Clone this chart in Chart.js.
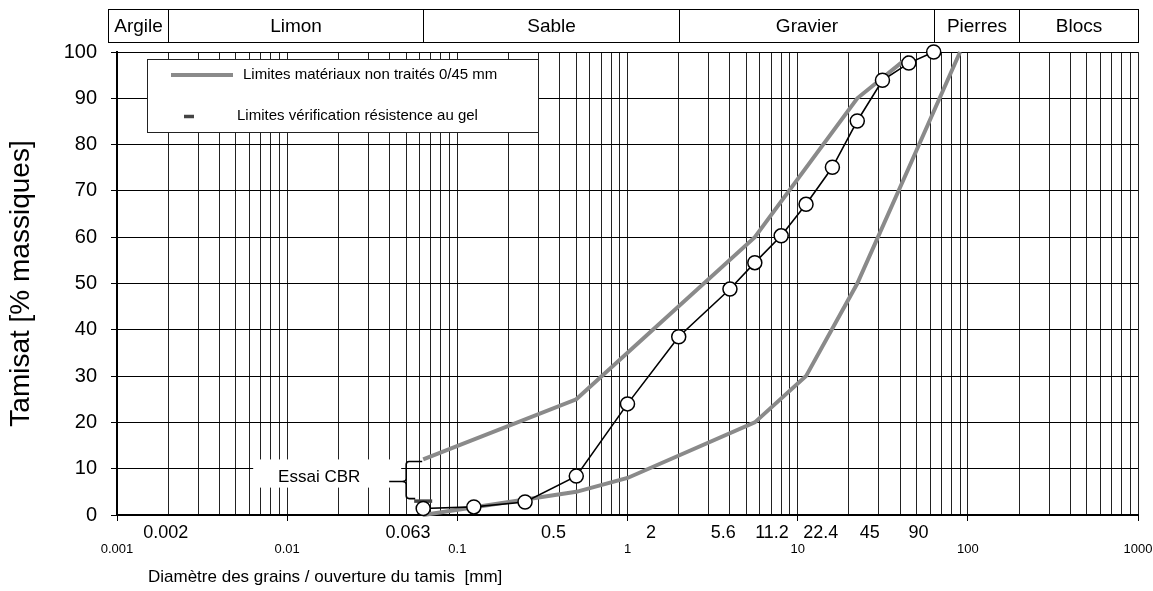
<!DOCTYPE html>
<html><head><meta charset="utf-8">
<script src="https://cdn.jsdelivr.net/npm/chart.js@4"></script>
<style>html,body{margin:0;padding:0;background:#fff}#wrap{width:1153px;height:591px;position:relative}</style>
</head><body><div id="wrap"><canvas id="c" width="1153" height="591"></canvas></div>
<script>
// ---- data ----
const sieveSizes = [0.063, 0.125, 0.25, 0.5, 1, 2, 4, 5.6, 8, 11.2, 16, 22.4, 31.5, 45, 63];
const passing    = [1.4, 1.75, 2.8, 8.4, 24.0, 38.5, 48.8, 54.5, 60.3, 67.1, 75.1, 85.1, 93.9, 97.6, 100];
const upperLimitSizes  = [0.063, 0.5, 5.6, 22.4, 45];
const upperLimitValues = [12, 25, 60, 90, 99];
const lowerLimitSizes  = [0.063, 0.5, 1, 5.6, 11.2, 22.4, 45, 90];
const lowerLimitValues = [0, 5, 8, 20, 30, 50, 75, 100];
const frostSizes  = [0.063];
const frostValues = [3];
const decadeTicks = [0.001, 0.01, 0.1, 1, 10, 100, 1000];
const sizeLabels  = [0.002, 0.063, 0.5, 2, 5.6, 11.2, 22.4, 45, 90];
const bandNames  = ['Argile', 'Limon', 'Sable', 'Gravier', 'Pierres', 'Blocs'];
const bandLimits = [0.00088, 0.002, 0.063, 2, 63, 200, 1000];
const legendLabels = ['Limites matériaux non traités 0/45 mm', 'Limites vérification résistence au gel'];
const cbrLabel = 'Essai CBR';
const xTitle = 'Diamètre des grains / ouverture du tamis  [mm]';
const yTitle = 'Tamisat [% massiques]';

// ---- helpers ----
const FONT = '"Liberation Sans", Arial, Helvetica, sans-serif';
const toXY = (xs, ys) => xs.map((x, i) => ({x: x, y: ys[i]}));
const GRAY = '#8a8a8a';
const FROST = '#444';

function logGridTicks() {
  const t = [];
  for (let i = 0; i < decadeTicks.length; i++) {
    const d = decadeTicks[i];
    t.push({value: d});
    if (i < decadeTicks.length - 1) {
      for (let m = 2; m <= 9; m++) t.push({value: m * d});
    }
  }
  return t;
}

function braceGeom(chart) {
  const x = chart.scales.x, y = chart.scales.y;
  const xv = x.getPixelForValue(frostSizes[0]);
  const yTop = y.getPixelForValue(upperLimitValues[0]) + 2;
  const yBot = y.getPixelForValue(frostValues[0]) - 2.5;
  return {xv, yTop, yBot, tip: xv - 34, xb: xv - 17, yMid: (yTop + yBot) / 2 + 1.5};
}

const decor = {
  id: 'decor',
  beforeDatasetsDraw(chart) {
    const ctx = chart.ctx;
    const g = braceGeom(chart);
    ctx.save();
    ctx.fillStyle = '#fff';
    ctx.fillRect(g.tip - 136, g.yTop - 2, (g.xb - 5) - (g.tip - 136), (g.yBot - 11) - (g.yTop - 2));
    ctx.fillStyle = '#000';
    ctx.font = '17px ' + FONT;
    ctx.textAlign = 'center'; ctx.textBaseline = 'middle';
    ctx.fillText(cbrLabel, g.tip - 70, g.yMid - 4);
    ctx.restore();
  },
  afterDatasetsDraw(chart) {
    const ctx = chart.ctx;
    const g = braceGeom(chart);
    ctx.save();
    ctx.strokeStyle = '#000'; ctx.lineWidth = 1.6;
    ctx.beginPath();
    ctx.moveTo(g.xv - 1, g.yTop);
    ctx.lineTo(g.xb + 3, g.yTop);
    ctx.quadraticCurveTo(g.xb, g.yTop, g.xb, g.yTop + 3);
    ctx.lineTo(g.xb, g.yMid - 3);
    ctx.quadraticCurveTo(g.xb, g.yMid, g.xb - 4, g.yMid);
    ctx.lineTo(g.tip, g.yMid);
    ctx.moveTo(g.xb - 4, g.yMid);
    ctx.quadraticCurveTo(g.xb, g.yMid, g.xb, g.yMid + 3);
    ctx.lineTo(g.xb, g.yBot - 3);
    ctx.quadraticCurveTo(g.xb, g.yBot, g.xb + 3, g.yBot);
    ctx.lineTo(g.xv - 8, g.yBot);
    ctx.stroke();
    ctx.restore();
  },
  afterDraw(chart) {
    const ctx = chart.ctx, x = chart.scales.x, x2 = chart.scales.x2, y = chart.scales.y;
    ctx.save();
    // top band of soil classes
    const bTop = 9.5, bBot = 42.5;
    const px = bandLimits.map(v => Math.round(x.getPixelForValue(v)) + 0.5);
    ctx.strokeStyle = '#000'; ctx.lineWidth = 1;
    ctx.strokeRect(px[0], bTop, px[px.length - 1] - px[0], bBot - bTop);
    ctx.beginPath();
    for (let i = 1; i < px.length - 1; i++) { ctx.moveTo(px[i], bTop); ctx.lineTo(px[i], bBot); }
    ctx.stroke();
    ctx.fillStyle = '#000';
    ctx.font = '19px ' + FONT;
    ctx.textAlign = 'center'; ctx.textBaseline = 'middle';
    for (let i = 0; i < bandNames.length; i++) {
      ctx.fillText(bandNames[i], (px[i] + px[i + 1]) / 2, (bTop + bBot) / 2 + 1);
    }
    // sieve size labels (second label row)
    ctx.font = '18px ' + FONT;
    const yl = y.getPixelForValue(0) + 18;
    sizeLabels.forEach(v => ctx.fillText(String(v), x2.getPixelForValue(v), yl));
    // legend
    const L = 147.5, T = 59.5, W = 391, H = 73;
    ctx.fillStyle = '#fff';
    ctx.fillRect(L, T, W, H);
    ctx.strokeStyle = '#222'; ctx.lineWidth = 1;
    ctx.strokeRect(L, T, W, H);
    ctx.strokeStyle = GRAY; ctx.lineWidth = 4;
    ctx.beginPath(); ctx.moveTo(171, 75); ctx.lineTo(233, 75); ctx.stroke();
    ctx.strokeStyle = FROST; ctx.lineWidth = 3.5;
    ctx.beginPath(); ctx.moveTo(184, 116.5); ctx.lineTo(194, 116.5); ctx.stroke();
    ctx.fillStyle = '#000';
    ctx.font = '15px ' + FONT;
    ctx.textAlign = 'left'; ctx.textBaseline = 'middle';
    ctx.fillText(legendLabels[0], 243, 75);
    ctx.fillText(legendLabels[1], 237, 116);
    // x title
    ctx.font = '17px ' + FONT;
    ctx.fillText(xTitle, 148, 577);
    ctx.restore();
  }
};

new Chart(document.getElementById('c'), {
  type: 'line',
  data: {
    datasets: [
      {label: 'upper', data: toXY(upperLimitSizes, upperLimitValues), borderColor: GRAY, borderWidth: 4,
       pointRadius: 0, tension: 0, fill: false, clip: false, order: 3},
      {label: 'lower', data: toXY(lowerLimitSizes, lowerLimitValues), borderColor: GRAY, borderWidth: 4,
       pointRadius: 0, tension: 0, fill: false, clip: false, order: 3},
      {label: 'frost', data: toXY(frostSizes, frostValues), showLine: false, pointStyle: 'line',
       pointRadius: 9, pointBorderWidth: 3.5, pointBorderColor: FROST, borderColor: FROST, clip: false, order: 2},
      {label: 'essai', data: toXY(sieveSizes, passing), borderColor: '#000', borderWidth: 1.6, tension: 0,
       pointRadius: 7, pointBackgroundColor: '#fff', pointBorderColor: '#000', pointBorderWidth: 1.5,
       fill: false, clip: false, order: 1}
    ]
  },
  options: {
    responsive: false, animation: false, devicePixelRatio: 1,
    layout: {padding: {top: 52, right: 15, left: 0, bottom: 0}},
    plugins: {legend: {display: false}, tooltip: {enabled: false}},
    scales: {
      x: {
        type: 'logarithmic', position: 'bottom', min: 0.001, max: 1000,
        afterBuildTicks: s => { s.ticks = logGridTicks(); },
        afterFit: s => { s.height = 76; s.paddingLeft = 0; s.paddingRight = 0; },
        grid: {color: '#222', lineWidth: 1, drawTicks: true, tickLength: 6,
               tickColor: c => (c.tick && decadeTicks.includes(c.tick.value)) ? '#000' : 'rgba(0,0,0,0)'},
        border: {display: true, color: '#000', width: 2},
        ticks: {autoSkip: false, maxRotation: 0, minRotation: 0, padding: 21, color: '#000',
                font: {family: FONT, size: 13},
                callback: v => decadeTicks.includes(v) ? String(v) : ''}
      },
      x2: {
        type: 'logarithmic', position: 'bottom', display: false, min: 0.001, max: 2050
      },
      y: {
        type: 'linear', min: 0, max: 100,
        afterFit: s => { s.width = 117; s.paddingTop = 0; s.paddingBottom = 0; },
        grid: {color: '#000', lineWidth: 1, tickLength: 6, tickColor: '#000'},
        border: {display: true, color: '#000', width: 2},
        ticks: {stepSize: 10, padding: 14, color: '#000', font: {family: FONT, size: 20}},
        title: {display: true, text: yTitle, color: '#000', font: {family: FONT, size: 28},
                padding: {top: 4, bottom: 0}}
      }
    }
  },
  plugins: [decor]
});
</script>
</body></html>
